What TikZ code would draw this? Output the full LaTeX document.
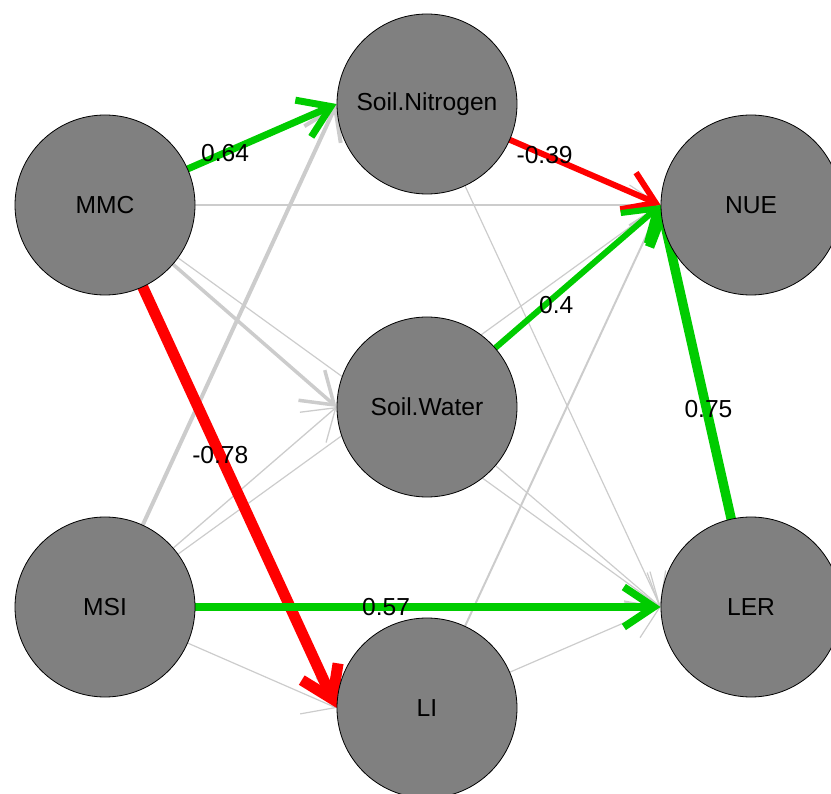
\documentclass[tikz,border=0pt]{standalone}
\usepackage{fontspec}
\setmainfont{Liberation Sans}
\usepackage{xcolor}
\usetikzlibrary{arrows.meta,backgrounds}

\definecolor{posgreen}{RGB}{0,204,0}
\definecolor{negred}{RGB}{255,0,0}
\definecolor{nsgray}{RGB}{204,204,204}
\definecolor{vargray}{RGB}{128,128,128}

\begin{document}
\begin{tikzpicture}[x=1pt, y=-1pt,
        >={Straight Barb[length=30pt, width=40pt]},
        var/.style={circle, draw=black, line width=0.8pt, fill=vargray, minimum size=180pt, inner sep=0pt, font=\fontsize{24.6}{29}\selectfont},
        wt/.style={font=\fontsize{24.6}{29}\selectfont, inner sep=0pt},
        nsedge/.style={->, draw=nsgray, line width=1.2pt, line cap=round},
        posedge/.style={->, draw=posgreen, line cap=round},
        negedge/.style={->, draw=negred, line cap=round}]
        \useasboundingbox (0,0) rectangle (831,794);
        % variables
        \node [var] (mmc) at (105,205) {MMC};
        \node [var] (msi) at (105,607) {MSI};
        \node [var] (sn) at (427,104) {Soil.Nitrogen};
        \node [var] (sw) at (427,407) {Soil.Water};
        \node [var] (li) at (427,708) {LI};
        \node [var] (nue) at (751,205) {NUE};
        \node [var] (ler) at (751,607) {LER};
        \begin{scope}[on background layer]
        % non significant paths
        \draw [nsedge] (mmc)-- (nue.west);
        \draw [nsedge] (mmc)-- (ler.west);
        \draw [nsedge, line width=3.5pt] (mmc)-- (sw.west);
        \draw [nsedge, line width=4pt] (msi)-- (sn.west);
        \draw [nsedge, line width=1.3pt] (msi)-- (sw.west);
        \draw [nsedge] (msi)-- (nue.west);
        \draw [nsedge] (msi)-- (li.west);
        \draw [nsedge] (sn)-- (ler.west);
        \draw [nsedge] (sw)-- (ler.west);
        \draw [nsedge, line width=2pt] (li)-- (nue.west);
        \draw [nsedge] (li)-- (ler.west);
        % significant paths
        \draw [posedge, line width=7pt] (mmc)-- node [wt, pos=0.25] {0.64} (sn.west);
        \draw [negedge, line width=11pt] (mmc)-- node [wt, pos=0.4] {-0.78} (li.west);
        \draw [negedge, line width=6pt] (sn)-- node [wt, pos=0.23] {-0.39} (nue.west);
        \draw [posedge, line width=6pt] (sw)-- node [wt, pos=0.35, xshift=3pt, yshift=-7pt] {0.4} (nue.west);
        \draw [posedge, line width=7.5pt] (msi)-- node [wt, pos=0.41] {0.57} (ler.west);
        \draw [posedge, line width=9.5pt] (ler)-- node [wt, pos=0.35, xshift=2pt] {0.75} (nue.west);
        \end{scope}
\end{tikzpicture}
\end{document}
